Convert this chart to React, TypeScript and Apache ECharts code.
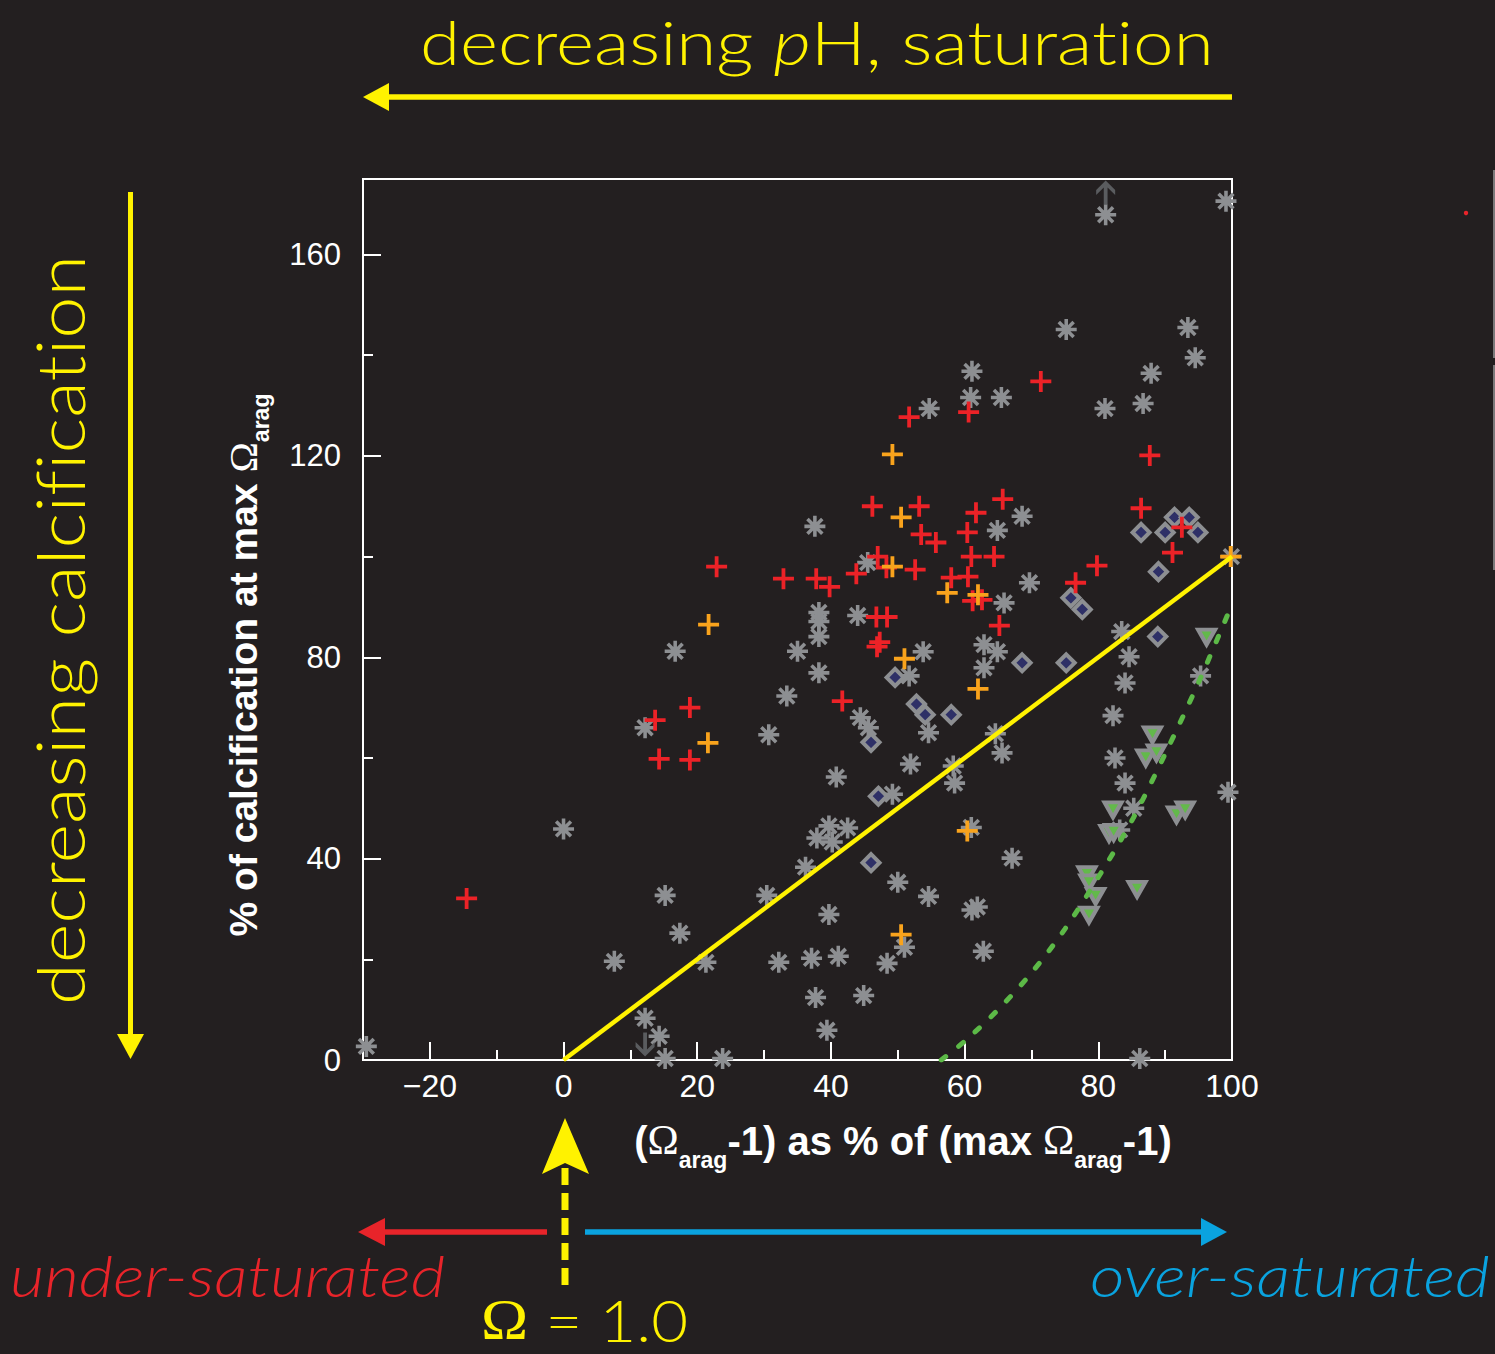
import React, { useEffect, useRef } from 'react';
import * as echarts from 'echarts';

const BG = '#231f20';
const YELLOW = '#fff200';

// ---------- axis description ----------
const xTickLabels = ['-30', '-20', '-10', '0', '10', '20', '30', '40', '50', '60', '70', '80', '90', '100'];
const xMin = -30;
const xMax = 100;
const yMin = 0;
const yMax = 175;

// ---------- data ----------
const otherTaxa: [number, number][] = [
  [81.1, 167.9], [99.1, 170.6], [75.2, 145.1], [93.4, 145.5], [94.5, 139.5], [87.9, 136.4],
  [61.1, 136.8], [54.7, 129.4], [60.9, 131.6], [65.5, 131.6], [81.0, 129.4], [86.7, 130.4],
  [37.6, 106.0], [64.9, 105.2], [68.6, 108.0], [45.5, 98.8], [69.7, 94.8], [65.9, 90.8],
  [38.2, 88.9], [38.2, 87.1], [38.2, 84.1], [44.0, 88.3], [16.7, 81.2], [35.0, 81.2],
  [53.8, 81.1], [62.9, 82.5], [64.9, 81.1], [83.5, 85.1], [84.6, 80.1], [38.2, 76.9],
  [51.7, 76.3], [62.9, 77.9], [33.4, 72.3], [84.0, 74.9], [95.3, 76.3], [44.4, 68.0],
  [45.6, 66.0], [12.2, 66.0], [30.7, 64.6], [54.6, 65.0], [64.6, 64.8], [65.6, 61.0],
  [82.2, 68.4], [51.9, 58.8], [40.8, 56.2], [58.3, 58.4], [58.5, 55.0], [82.5, 60.0],
  [84.0, 55.0], [49.2, 52.8], [99.4, 53.2], [85.3, 50.0], [39.7, 46.5], [42.5, 46.1],
  [37.9, 44.1], [40.2, 43.3], [83.2, 45.7], [61.0, 46.2], [0.0, 45.9], [36.2, 38.3],
  [67.1, 40.1], [15.2, 32.7], [30.4, 32.7], [50.0, 35.3], [54.6, 32.5], [17.4, 25.2],
  [39.7, 28.9], [61.9, 30.4], [61.1, 29.8], [51.0, 22.4], [62.8, 21.6], [7.6, 19.6],
  [21.3, 19.4], [32.2, 19.4], [37.1, 20.2], [41.1, 20.6], [48.4, 19.2], [37.7, 12.4],
  [44.9, 12.8], [12.2, 8.3], [14.3, 4.7], [39.4, 5.9], [-29.5, 2.7], [15.2, 0.3],
  [23.8, 0.3], [86.2, 0.3], [99.9, 100.0],
];

const corals: [number, number][] = [
  [-14.5, 32.1], [13.7, 67.5], [14.3, 59.8], [18.9, 59.6], [18.9, 70.0], [22.9, 98.0],
  [32.9, 95.6], [37.8, 95.6], [39.8, 94.0], [41.7, 71.3], [43.8, 96.6], [46.2, 110.0],
  [47.0, 100.0], [48.3, 97.8], [46.8, 88.0], [48.4, 88.0], [46.9, 82.1], [47.3, 83.0],
  [51.7, 127.7], [53.2, 110.0], [53.5, 104.4], [55.7, 102.8], [52.6, 97.4], [58.0, 95.8],
  [60.5, 96.0], [61.2, 91.2], [62.6, 91.4], [60.4, 104.8], [61.7, 108.7], [61.0, 100.0],
  [64.4, 100.0], [65.7, 111.4], [65.2, 86.3], [60.6, 128.7], [71.4, 134.8], [76.6, 94.8],
  [79.8, 98.2], [86.4, 109.6], [87.7, 120.1], [91.1, 100.8], [92.5, 105.8],
];

const coralCommunities: [number, number][] = [
  [21.7, 86.5], [21.6, 63.0], [49.2, 120.3], [50.5, 107.8], [49.2, 98.0], [57.4, 92.8],
  [62.0, 92.4], [51.0, 79.7], [62.0, 73.7], [60.4, 45.5], [50.5, 24.9], [99.8, 100.0],
];

const coccolithophores: [number, number][] = [
  [46.0, 63.1], [47.1, 52.4], [46.0, 39.2], [49.6, 76.0], [52.8, 70.7], [54.1, 68.6],
  [58.0, 68.6], [68.6, 78.9], [75.2, 78.9], [75.9, 91.8], [77.6, 89.5], [86.4, 104.8],
  [89.0, 97.0], [88.9, 84.1], [90.0, 104.8], [91.4, 107.8], [93.6, 107.8], [94.9, 104.8],
];

const foraminifera: [number, number][] = [
  [96.2, 84.0], [88.1, 64.6], [87.1, 60.0], [88.7, 61.0], [82.2, 49.7], [81.6, 45.0],
  [82.3, 45.2], [91.7, 48.7], [93.0, 49.7], [78.3, 36.8], [78.6, 35.2], [79.6, 32.5],
  [78.6, 28.8], [85.8, 33.9],
];

const offScaleUp: [number, number][] = [[81.1, 172.3]];
const offScaleDown: [number, number][] = [[12.2, 3.1]];

const oneToOneX = [0, 100];
const oneToOneY = [0, 100];

const fitX = [56.5, 60, 65, 70, 75, 80, 85, 90, 95, 100];
const fitY = [0, 3.7, 10, 17.3, 26, 36.3, 47.5, 60.8, 75, 90.5];

// ---------- symbols ----------
const ASTERISK =
  'path://M8.3,0L11.7,0L11.7,20L8.3,20Z M0,8.3L20,8.3L20,11.7L0,11.7Z M4.13,1.73L18.27,15.87L15.87,18.27L1.73,4.13Z M15.87,1.73L18.27,4.13L4.13,18.27L1.73,15.87Z';
const PLUS = 'path://M8.6,0L12.4,0L12.4,21L8.6,21Z M0,8.6L21,8.6L21,12.4L0,12.4Z';
const ARROW = 'path://M10,0L20,9.5L20,14.5L12,7L12,24L8,24L8,7L0,14.5L0,9.5Z';

// ---------- text helpers ----------
let measureCtx: CanvasRenderingContext2D | null = null;
function measure(text: string, font: string): number {
  if (!measureCtx) {
    const c = document.createElement('canvas');
    measureCtx = c.getContext('2d');
  }
  measureCtx!.font = font;
  return measureCtx!.measureText(text).width;
}

type Seg = { t: string; size: number; font: string; dy?: number };

function textRun(
  segs: Seg[],
  fill: string,
  x: number,
  y: number,
  opts: { rotation?: number; width?: number } = {}
) {
  const widths = segs.map((s) => measure(s.t, s.font));
  const total = widths.reduce((a, b) => a + b, 0);
  const sx = opts.width ? opts.width / total : 1;
  let cx = -total / 2;
  const children = segs.map((s, i) => {
    const el = {
      type: 'text',
      x: cx,
      y: -0.35 * s.size + (s.dy || 0),
      style: {
        text: s.t,
        font: s.font,
        fill,
        lineHeight: s.size,
        textAlign: 'left',
        align: 'left',
        textVerticalAlign: 'middle',
        verticalAlign: 'middle',
      },
    };
    cx += widths[i];
    return el;
  });
  return {
    type: 'group',
    x,
    y,
    rotation: opts.rotation || 0,
    scaleX: sx,
    children,
  };
}

const SANS = '"Liberation Sans", Arial, sans-serif';
const SERIF = '"Liberation Serif", "Times New Roman", serif';
const THIN = 'Lato, "Open Sans", sans-serif';

function buildGraphics() {
  const els: any[] = [];
  // title
  els.push(
    textRun(
      [
        { t: 'decreasing ', size: 62, font: `300 62px ${THIN}` },
        { t: 'p', size: 62, font: `italic 300 62px ${THIN}` },
        { t: 'H, saturation', size: 62, font: `300 62px ${THIN}` },
      ],
      YELLOW,
      817.5,
      62,
      { width: 795 }
    )
  );
  // left vertical label
  els.push(
    textRun([{ t: 'decreasing calcification', size: 66, font: `300 66px ${THIN}` }], YELLOW, 83, 630, {
      rotation: Math.PI / 2,
      width: 750,
    })
  );
  // axis names
  els.push(
    textRun(
      [
        { t: '(', size: 40, font: `bold 40px ${SANS}` },
        { t: 'Ω', size: 42, font: `42px ${SERIF}` },
        { t: 'arag', size: 23, font: `bold 23px ${SANS}`, dy: 13 },
        { t: '-1) as % of (max ', size: 40, font: `bold 40px ${SANS}` },
        { t: 'Ω', size: 42, font: `42px ${SERIF}` },
        { t: 'arag', size: 23, font: `bold 23px ${SANS}`, dy: 13 },
        { t: '-1)', size: 40, font: `bold 40px ${SANS}` },
      ],
      '#ffffff',
      903,
      1155
    )
  );
  els.push(
    textRun(
      [
        { t: '% of calcification at max ', size: 39, font: `bold 39px ${SANS}` },
        { t: 'Ω', size: 41, font: `41px ${SERIF}` },
        { t: 'arag', size: 23, font: `bold 23px ${SANS}`, dy: 12 },
      ],
      '#ffffff',
      257,
      665,
      { rotation: Math.PI / 2 }
    )
  );
  // bottom texts
  els.push(
    textRun([{ t: 'under-saturated', size: 58, font: `italic 300 58px ${THIN}` }], '#e8242a', 227.5, 1295, {
      width: 435,
    })
  );
  els.push(
    textRun([{ t: 'over-saturated', size: 58, font: `italic 300 58px ${THIN}` }], '#0aa3df', 1290, 1295, {
      width: 400,
    })
  );
  els.push(
    textRun(
      [
        { t: 'Ω', size: 58, font: `58px ${SERIF}` },
        { t: ' = 1.0', size: 58, font: `300 58px ${THIN}` },
      ],
      YELLOW,
      584.5,
      1340,
      { width: 207 }
    )
  );

  // arrows
  els.push({ type: 'line', shape: { x1: 1232, y1: 97, x2: 385, y2: 97 }, style: { stroke: YELLOW, lineWidth: 5.5 } });
  els.push({ type: 'polygon', shape: { points: [[363, 97], [389, 83], [389, 111]] }, style: { fill: YELLOW } });

  els.push({ type: 'line', shape: { x1: 130.5, y1: 192, x2: 130.5, y2: 1036 }, style: { stroke: YELLOW, lineWidth: 5 } });
  els.push({ type: 'polygon', shape: { points: [[130.5, 1059], [117, 1034], [144, 1034]] }, style: { fill: YELLOW } });

  els.push({
    type: 'line',
    shape: { x1: 565, y1: 1168, x2: 565, y2: 1293 },
    style: { stroke: YELLOW, lineWidth: 7, lineDash: [17, 8] },
  });
  els.push({
    type: 'polygon',
    shape: { points: [[565, 1118], [589, 1174], [565, 1163], [542, 1174]] },
    style: { fill: YELLOW },
  });

  els.push({ type: 'line', shape: { x1: 547, y1: 1232, x2: 380, y2: 1232 }, style: { stroke: '#e8242a', lineWidth: 5.5 } });
  els.push({ type: 'polygon', shape: { points: [[358, 1232], [385, 1218], [385, 1246]] }, style: { fill: '#e8242a' } });

  els.push({ type: 'line', shape: { x1: 585, y1: 1232, x2: 1205, y2: 1232 }, style: { stroke: '#0aa3df', lineWidth: 5.5 } });
  els.push({ type: 'polygon', shape: { points: [[1227, 1232], [1201, 1218], [1201, 1246]] }, style: { fill: '#0aa3df' } });

  // slide edge artefacts
  els.push({ type: 'line', shape: { x1: 1494, y1: 170, x2: 1494, y2: 358 }, style: { stroke: '#9a9a9a', lineWidth: 1.5 } });
  els.push({ type: 'line', shape: { x1: 1494, y1: 365, x2: 1494, y2: 570 }, style: { stroke: '#9a9a9a', lineWidth: 1.5 } });
  els.push({ type: 'circle', shape: { cx: 1466, cy: 213, r: 2.2 }, style: { fill: '#e8242a' } });
  return els;
}

const axisWhite = { color: '#ffffff', width: 2 };

function buildOption(): any {
  const pairs = (xs: number[], ys: number[]) => xs.map((x, i) => [x, ys[i]]);
  return {
    animation: false,
    backgroundColor: BG,
    grid: {
      left: 363,
      top: 179,
      right: 263,
      bottom: 294,
      show: true,
      borderColor: '#ffffff',
      borderWidth: 2,
      backgroundColor: 'transparent',
    },
    xAxis: [
      {
        type: 'value',
        position: 'bottom',
        min: xMin,
        max: xMax,
        interval: 10,
        axisLine: { show: true, onZero: false, lineStyle: axisWhite },
        axisTick: { show: true, inside: true, length: 10, lineStyle: axisWhite },
        axisLabel: { show: false },
        splitLine: { show: false },
      },
      {
        type: 'category',
        position: 'bottom',
        boundaryGap: false,
        data: xTickLabels,
        axisLine: { show: false, onZero: false },
        axisTick: {
          show: true,
          inside: true,
          length: 18,
          interval: (_i: number, v: string) => Number(v) % 20 === 0,
          lineStyle: axisWhite,
        },
        axisLabel: {
          interval: (_i: number, v: string) => Number(v) % 20 === 0,
          formatter: (v: string) => v.replace('-', '\u2212'),
          color: '#ffffff',
          fontSize: 32,
          fontFamily: SANS,
          margin: 10,
        },
        splitLine: { show: false },
      },
    ],
    yAxis: [
      {
        type: 'value',
        position: 'left',
        min: yMin,
        max: yMax,
        interval: 40,
        axisLine: { show: true, onZero: false, lineStyle: axisWhite },
        axisTick: { show: true, inside: true, length: 18, lineStyle: axisWhite },
        axisLabel: {
          formatter: (v: number) => (v > 170 ? '' : String(v)),
          color: '#ffffff',
          fontSize: 31,
          fontFamily: SANS,
          margin: 22,
        },
        splitLine: { show: false },
      },
      {
        type: 'value',
        position: 'left',
        min: yMin,
        max: yMax,
        interval: 20,
        axisLine: { show: false, onZero: false },
        axisTick: { show: true, inside: true, length: 10, lineStyle: axisWhite },
        axisLabel: { show: false },
        splitLine: { show: false },
      },
    ],
    series: [
      {
        type: 'scatter',
        name: 'other taxa',
        data: otherTaxa,
        symbol: ASTERISK,
        symbolSize: 21,
        itemStyle: { color: '#8d8f92', opacity: 1 },
        silent: true,
      },
      {
        type: 'scatter',
        name: 'coccolithophores',
        data: coccolithophores,
        symbol: 'diamond',
        symbolSize: 17,
        itemStyle: { color: '#2e3067', borderColor: '#8d8f92', borderWidth: 4, opacity: 1 },
        silent: true,
      },
      {
        type: 'scatter',
        name: 'foraminifera',
        data: foraminifera,
        symbol: 'triangle',
        symbolRotate: 180,
        symbolSize: [17, 15],
        itemStyle: { color: '#63b94b', borderColor: '#8d8f92', borderWidth: 4, opacity: 1 },
        silent: true,
      },
      {
        type: 'scatter',
        name: 'corals',
        data: corals,
        symbol: PLUS,
        symbolSize: 21,
        itemStyle: { color: '#ec2227', opacity: 1 },
        silent: true,
      },
      {
        type: 'scatter',
        name: 'coral communities',
        data: coralCommunities,
        symbol: PLUS,
        symbolSize: 21,
        itemStyle: { color: '#f9a31c', opacity: 1 },
        silent: true,
      },
      {
        type: 'scatter',
        name: 'off scale up',
        data: offScaleUp,
        symbol: ARROW,
        symbolSize: [19, 24],
        itemStyle: { color: '#5a5c5f', opacity: 1 },
        silent: true,
        clip: false,
      },
      {
        type: 'scatter',
        name: 'off scale down',
        data: offScaleDown,
        symbol: ARROW,
        symbolRotate: 180,
        symbolSize: [19, 24],
        itemStyle: { color: '#5a5c5f', opacity: 1 },
        silent: true,
        clip: false,
      },
      {
        type: 'line',
        name: '1:1',
        data: pairs(oneToOneX, oneToOneY),
        symbol: 'none',
        lineStyle: { color: YELLOW, width: 4.5 },
        silent: true,
      },
      {
        type: 'line',
        name: 'fit',
        data: pairs(fitX, fitY),
        symbol: 'none',
        smooth: 0.3,
        lineStyle: { color: '#5cb947', width: 5, type: [6, 16], cap: 'round' },
        silent: true,
      },
    ],
    graphic: { elements: buildGraphics() },
  };
}

const css = '#root svg text { font-variant-ligatures: none !important; font-feature-settings: "liga" 0, "clig" 0 !important; }';

export default function App() {
  const ref = useRef<HTMLDivElement>(null);
  useEffect(() => {
    document.body.style.margin = '0';
    document.body.style.background = BG;
    const chart = echarts.init(ref.current!, undefined, { renderer: 'svg' });
    chart.setOption(buildOption());
    return () => chart.dispose();
  }, []);
  return (
    <>
      <style>{css}</style>
      <div ref={ref} style={{ width: 1495, height: 1354, background: BG }} />
    </>
  );
}
